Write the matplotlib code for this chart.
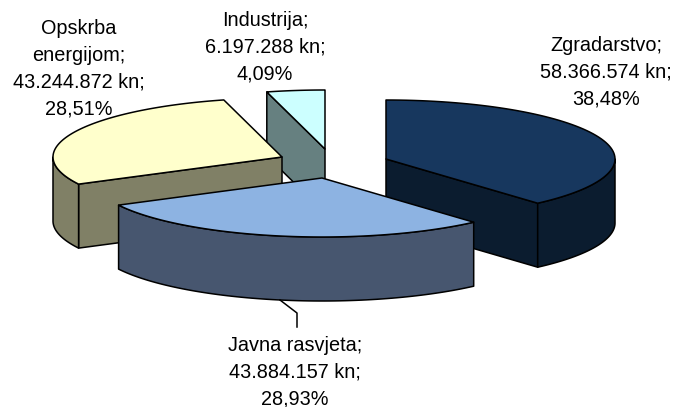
import numpy as np
import matplotlib
matplotlib.use("Agg")
import matplotlib.pyplot as plt
from matplotlib.patches import Polygon

plt.rcParams['font.family'] = ['Liberation Sans', 'DejaVu Sans']

categories = ["Zgradarstvo", "Javna rasvjeta", "Opskrba\nenergijom", "Industrija"]
amounts = ["58.366.574", "43.884.157", "43.244.872", "6.197.288"]
shares = [38.48, 28.93, 28.51, 4.09]
share_labels = ["38,48%", "28,93%", "28,51%", "4,09%"]

top_colors = ["#17375E", "#8DB3E2", "#FFFFCC", "#CCFFFF"]
side_colors = ["#0B1C2F", "#47566F", "#808066", "#668080"]
apex = [(386, 159), (322, 178), (282, 157), (325, 149)]
label_pos = [(606, 72), (295, 372), (79, 69), (265, 47)]
draw_order = [3, 2, 0, 1]

RX, RY, DEPTH = 229, 59, 64

fig = plt.figure(figsize=(6.74, 4.07), dpi=100)
ax = fig.add_axes([0, 0, 1, 1])
ax.set_xlim(0, 674)
ax.set_ylim(407, 0)
ax.axis("off")

fracs = np.array(shares) / sum(shares)
edges = np.concatenate([[0], np.cumsum(fracs)]) * 2 * np.pi


def arc(cx, cy, a0, a1, n=80):
    t = np.linspace(a0, a1, n)
    return np.column_stack([cx + RX * np.sin(t), cy - RY * np.cos(t)])


def patch(pts, color, z):
    ax.add_patch(Polygon(pts, closed=True, facecolor=color, edgecolor="black",
                         lw=1.1, joinstyle="round", zorder=z))


for z, i in enumerate(draw_order):
    cx, cy = apex[i]
    a0, a1 = edges[i], edges[i + 1]
    base = z * 10
    top = arc(cx, cy, a0, a1)
    # cut faces that look towards the viewer
    if i in (0, 2, 3):
        e = top[-1] if i == 0 else top[0]
        face = [(cx, cy), tuple(e), (e[0], e[1] + DEPTH), (cx, cy + DEPTH)]
        patch(face, side_colors[i], base + 1)
    # visible part of the rim: lower half of the ellipse
    r0, r1 = max(a0, np.pi / 2), min(a1, 3 * np.pi / 2)
    if r1 > r0:
        rim = arc(cx, cy, r0, r1)
        pts = np.vstack([rim, (rim + [0, DEPTH])[::-1]])
        patch(pts, side_colors[i], base + 2)
    patch(np.vstack([[(cx, cy)], top]), top_colors[i], base + 3)

ax.plot([280, 297, 297], [300, 313, 327], color="black", lw=1.1, zorder=100)

for i, (x, y) in enumerate(label_pos):
    ax.text(x, y, f"{categories[i]};\n{amounts[i]} kn;\n{share_labels[i]}",
            ha="center", va="center", fontsize=14.3, linespacing=1.53,
            color="black", zorder=200)

fig.savefig("out.png", dpi=100)
